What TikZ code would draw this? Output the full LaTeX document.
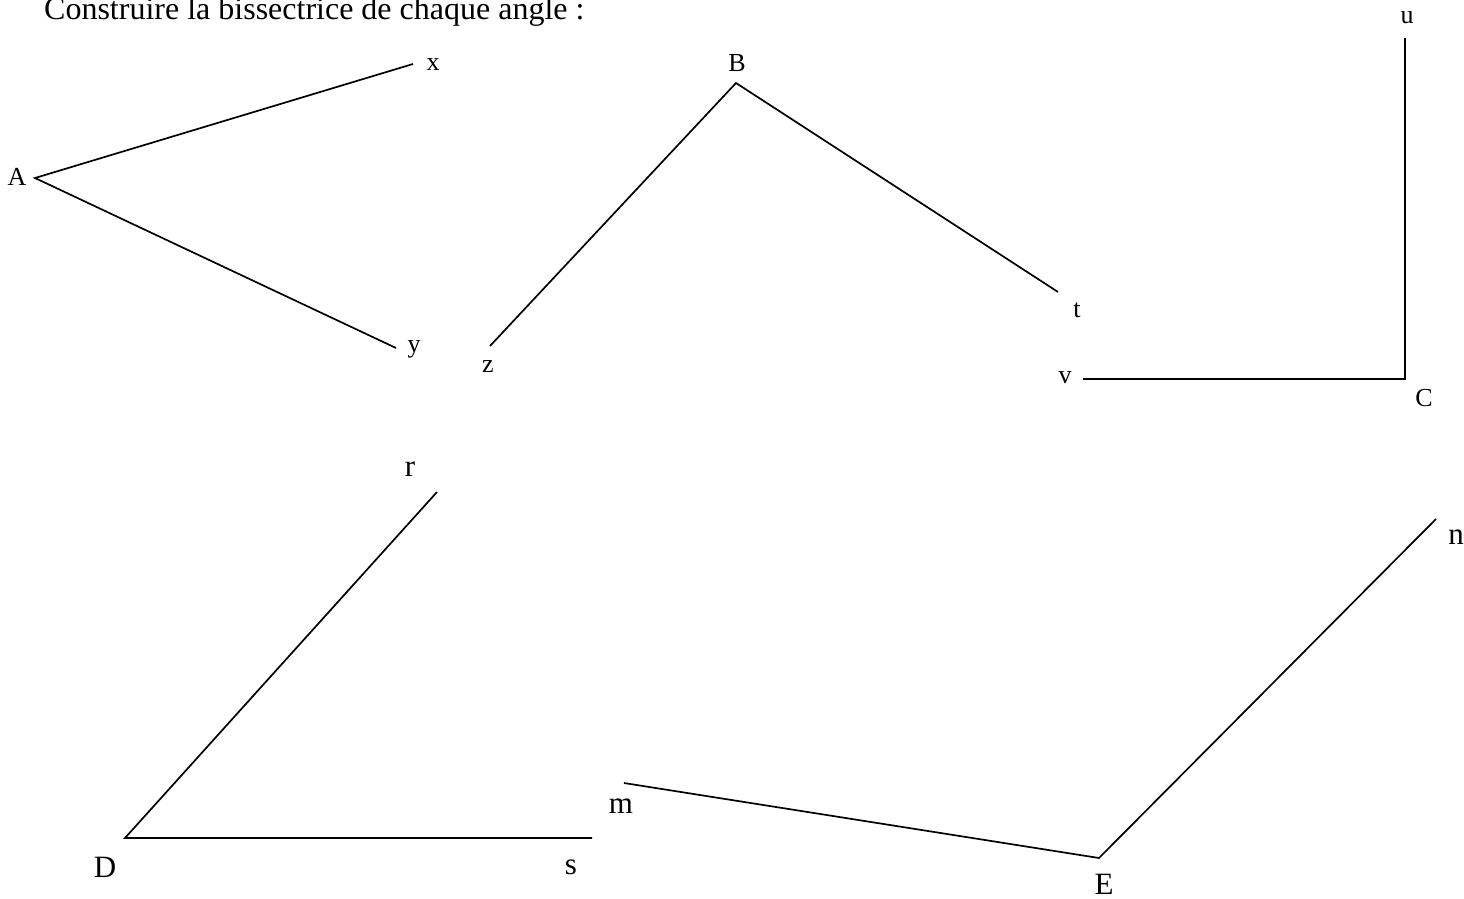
\documentclass[tikz,border=0pt]{standalone}
\usepackage{fontspec}
\setmainfont{Liberation Serif}
\begin{document}
\begin{tikzpicture}[x=1pt,y=-1pt,
  seg/.style={line width=1.7pt,line cap=butt,line join=miter},
  lab/.style={inner sep=0pt,font=\fontsize{26}{26}\selectfont},
  labb/.style={inner sep=0pt,font=\fontsize{31}{31}\selectfont}]
\useasboundingbox (0,0) rectangle (1464,899);
\node[anchor=base west,inner sep=0pt,font=\fontsize{32}{32}\selectfont] (title) at (44,20) {Construire la bissectrice de chaque angle :};
% angle A
\coordinate (A) at (35,178);
\coordinate (xe) at (413,64);
\coordinate (ye) at (396,348);
\draw[seg] (xe) -- (A) -- (ye);
\node[lab] (lA) at (17,177) {A};
\node[lab] (lx) at (433,65) {x};
\node[lab] (ly) at (414,349) {y};
% angle B
\coordinate (B) at (736,83);
\coordinate (ze) at (490,346);
\coordinate (te) at (1058,292);
\draw[seg] (ze) -- (B) -- (te);
\node[lab] (lB) at (737,63) {B};
\node[lab] (lz) at (488,367) {z};
\node[lab] (lt) at (1077,310) {t};
% angle C
\coordinate (C) at (1405,379);
\coordinate (ue) at (1405,38);
\coordinate (ve) at (1083,379);
\draw[seg] (ue) -- (C) -- (ve);
\node[lab] (lu) at (1407,18) {u};
\node[lab] (lv) at (1065,378) {v};
\node[lab] (lC) at (1424,398) {C};
% angle D
\coordinate (D) at (125,838);
\coordinate (re) at (437,492);
\coordinate (se) at (592,838);
\draw[seg] (re) -- (D) -- (se);
\node[labb] (lr) at (410,469) {r};
\node[labb] (lD) at (105,867) {D};
\node[labb] (ls) at (571,867) {s};
% angle E
\coordinate (E) at (1099,858);
\coordinate (me) at (624,783);
\coordinate (ne) at (1436,519);
\draw[seg] (me) -- (E) -- (ne);
\node[labb] (lm) at (621,806) {m};
\node[labb] (lE) at (1104,884) {E};
\node[labb] (ln) at (1456,537) {n};
\end{tikzpicture}
\end{document}
